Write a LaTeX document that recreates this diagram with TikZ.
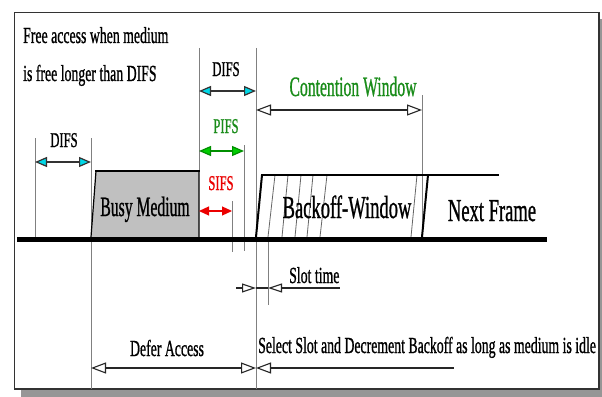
\documentclass[tikz,border=0pt]{standalone}
\usepackage{fontspec}
\setmainfont{Liberation Serif}[FakeBold=1.2]
\usepackage{graphicx}
\usetikzlibrary{arrows.meta}
\definecolor{cyanh}{RGB}{0,215,230}
\definecolor{greenh}{RGB}{0,205,0}
\definecolor{greent}{RGB}{25,140,25}
\definecolor{redc}{RGB}{235,0,0}
\definecolor{busyg}{RGB}{192,192,192}
\definecolor{shadowg}{RGB}{150,150,150}
\newcommand{\cnd}[2]{\scalebox{#1}[1]{#2}}
\tikzset{
  txt/.style={inner sep=0pt, anchor=base, font=\fontsize{23}{25}\selectfont},
  lab/.style={inner sep=0pt, anchor=base, font=\fontsize{21}{23}\selectfont},
  mid/.style={inner sep=0pt, anchor=base, font=\fontsize{28}{30}\selectfont},
  big/.style={inner sep=0pt, anchor=base, font=\fontsize{32}{34}\selectfont},
  guide/.style={draw=black!50, line width=0.9pt},
  cyanarr/.style={draw=black!80, line width=1.2pt,
    {Triangle[length=12pt,width=10pt,fill=cyanh]}-{Triangle[length=12pt,width=10pt,fill=cyanh]}},
  greenarr/.style={draw=greenh!70!black, line width=1.2pt,
    {Triangle[length=12pt,width=10pt,fill=greenh]}-{Triangle[length=12pt,width=10pt,fill=greenh]}},
  redarr/.style={draw=redc, line width=1.2pt,
    {Triangle[length=10pt,width=9pt,fill=redc]}-{Triangle[length=10pt,width=9pt,fill=redc]}},
  openarr/.style={draw=black!85, line width=1.1pt},
  otip/.tip={Triangle[open,length=15pt,width=11pt,fill=white]},
  stip/.tip={Triangle[open,length=14pt,width=9pt,fill=white]}
}
\begin{document}
\begin{tikzpicture}[x=1pt,y=-1pt]
\useasboundingbox (0,0) rectangle (602,396);
% frame with shadow
\fill[shadowg] (21,19) rectangle (608,402);
\draw[fill=white, draw=black!80, line width=1.2pt] (14.5,12.5) rectangle (599,389);

% coordinates
\coordinate (d1a) at (35,162);  \coordinate (d1b) at (91,162);
\coordinate (d2a) at (199,91);  \coordinate (d2b) at (256,91);
\coordinate (pa) at (199,151);  \coordinate (pb) at (244,151);
\coordinate (sa) at (199,211);  \coordinate (sb) at (232,211);
\coordinate (cwa) at (256,110); \coordinate (cwb) at (422,110);
\coordinate (sl0) at (236,288); \coordinate (sl1) at (256,288);
\coordinate (sl2) at (268,288); \coordinate (sl3) at (340,288);
\coordinate (dfa) at (91,368);  \coordinate (dfb) at (256,368);
\coordinate (ssb) at (454,368);

% guide lines
\draw[guide] (35,138) -- (35,237);
\draw[guide] (91,138) -- (91,389);
\draw[guide] (199,48) -- (199,171);
\draw[guide] (256,48) -- (256,389);
\draw[guide] (244,145) -- (244,251);
\draw[guide] (232,201) -- (232,252);
\draw[guide] (422,95) -- (422,239);
\draw[guide] (268,239) -- (268,305);

% busy medium
\draw[fill=busyg, draw=black, line width=1.2pt] (91,237) -- (96,171) -- (199,171) -- (199,237);
\draw[line width=2.8pt] (95,171) -- (199.6,171);
\node[mid] (busy) at (145,216) {\cnd{0.56}{Busy Medium}};

% backoff window
\draw[draw=black!60, line width=0.8pt]
  (275,175) -- (268,237)
  (288,175) -- (282,237)
  (301,175) -- (295,237)
  (313,175) -- (307,237)
  (327,175) -- (320,237)
  (417,175) -- (411,237);
\draw[line width=2pt] (256,237) -- (262,175);
\draw[line width=2.8pt] (261,175) -- (499,175);
\draw[line width=2pt] (422,237) -- (428,175);
\node[big] (backoff) at (347,218) {\cnd{0.58}{Backoff-Window}};
\node[big] (next) at (492,221) {\cnd{0.58}{Next Frame}};

% baseline
\draw[line width=5pt] (17,239) -- (547,239);

% arrows
\draw[cyanarr] (d1a) -- (d1b);
\draw[cyanarr] (d2a) -- (d2b);
\draw[greenarr] (pa) -- (pb);
\draw[redarr] (sa) -- (sb);
\draw[openarr, otip-otip] (cwa) -- (cwb);
\draw[openarr, -stip] (sl0) -- (sl1);
\draw[openarr] (sl1) -- (sl2);
\draw[openarr, stip-] (sl2) -- (sl3);
\draw[openarr, otip-otip] (dfa) -- (dfb);
\draw[openarr, otip-] (dfb) -- (ssb);

% labels
\node[txt, anchor=base west] (free1) at (23,43) {\cnd{0.6}{Free access when medium}};
\node[txt, anchor=base west] (free2) at (23,81) {\cnd{0.6}{is free longer than DIFS}};
\node[lab] (difs1) at (64,147) {\cnd{0.6}{DIFS}};
\node[lab] (difs2) at (226,76) {\cnd{0.6}{DIFS}};
\node[lab, text=greent] (pifs) at (226,133) {\cnd{0.6}{PIFS}};
\node[lab, text=redc] (sifs) at (221,190) {\cnd{0.6}{SIFS}};
\node[mid, text=greent] (cw) at (353,96) {\cnd{0.56}{Contention Window}};
\node[txt, anchor=base west] (slot) at (289,283) {\cnd{0.6}{Slot time}};
\node[txt] (defer) at (167,356) {\cnd{0.6}{Defer Access}};
\node[txt, anchor=base west] (select) at (258,353) {\cnd{0.6}{Select Slot and Decrement Backoff as long as medium is idle}};
% frame right edge over text
\draw[draw=black!80, line width=1.2pt] (599,12.5) -- (599,389);
\end{tikzpicture}
\end{document}
